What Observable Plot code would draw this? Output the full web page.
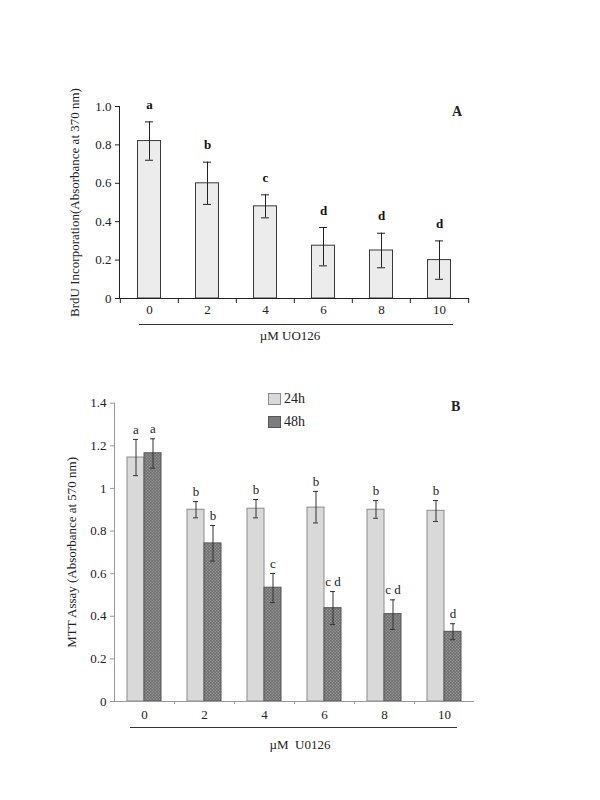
<!DOCTYPE html>
<html>
<head>
<meta charset="utf-8">
<script src="https://cdn.jsdelivr.net/npm/d3@7"></script>
<script src="https://cdn.jsdelivr.net/npm/@observablehq/plot@0.6"></script>
<style>
  html, body { margin: 0; padding: 0; background: #fff; }
  #page { position: relative; width: 600px; height: 800px; font-family: "Liberation Serif", "Times New Roman", serif; color: #222; }
  #page svg { position: absolute; left: 0; }
  #page svg text { font-family: "Liberation Serif", "Times New Roman", serif; }
  .ov { position: absolute; font-family: "Liberation Serif", serif; color: #222; white-space: nowrap; }
  .line { position: absolute; height: 0; border-top: 1px solid #333; }
  .box { position: absolute; width: 11px; height: 10px; border: 1px solid #777; }
</style>
</head>
<body>
<div id="page"></div>
<script>
// ---------- Panel A data: BrdU incorporation ----------
const concA = ["0", "2", "4", "6", "8", "10"];
const brduMean = [0.82, 0.60, 0.48, 0.275, 0.25, 0.20];
const brduLow = [0.72, 0.49, 0.42, 0.17, 0.16, 0.10];
const brduHigh = [0.92, 0.71, 0.54, 0.37, 0.34, 0.30];
const brduLetters = ["a", "b", "c", "d", "d", "d"];
const ticksA = [0, 0.2, 0.4, 0.6, 0.8, 1.0];

// ---------- Panel B data: MTT assay ----------
const concB = ["0", "2", "4", "6", "8", "10"];
const seriesB = ["24h", "48h"];
const mtt24 = [1.145, 0.90, 0.905, 0.91, 0.90, 0.895];
const mtt24Low = [1.06, 0.862, 0.862, 0.838, 0.86, 0.845];
const mtt24High = [1.23, 0.938, 0.948, 0.986, 0.943, 0.943];
const mtt48 = [1.165, 0.742, 0.534, 0.438, 0.41, 0.327];
const mtt48Low = [1.095, 0.659, 0.464, 0.361, 0.338, 0.29];
const mtt48High = [1.233, 0.826, 0.601, 0.516, 0.477, 0.365];
const letters24 = ["a", "b", "b", "b", "b", "b"];
const letters48 = ["a", "b", "c", "c d", "c d", "d"];
const ticksB = [0, 0.2, 0.4, 0.6, 0.8, 1.0, 1.2, 1.4];

const dataA = concA.map((c, i) => ({conc: c, mean: brduMean[i], low: brduLow[i], high: brduHigh[i], letter: brduLetters[i]}));
const data24 = concB.map((c, i) => ({conc: c, series: seriesB[0], mean: mtt24[i], low: mtt24Low[i], high: mtt24High[i], letter: letters24[i]}));
const data48 = concB.map((c, i) => ({conc: c, series: seriesB[1], mean: mtt48[i], low: mtt48Low[i], high: mtt48High[i], letter: letters48[i]}));

const font = '"Liberation Serif", "Times New Roman", serif';
const page = document.getElementById("page");

// ---------- Panel A ----------
const wA = 600, mlA = 119, mrA = 131;
const bwA = (wA - mlA - mrA) / concA.length;
const plotA = Plot.plot({
  width: wA, height: 370,
  marginTop: 106, marginBottom: 72, marginLeft: mlA, marginRight: mrA,
  style: {fontFamily: font, fontSize: "13px", background: "transparent", color: "#222"},
  x: {domain: concA, padding: 0, axis: null},
  y: {domain: [0, 1], axis: null},
  marks: [
    Plot.barY(dataA, {x: "conc", y: "mean", fill: "#ececec", stroke: "#3a3a3a", strokeWidth: 1, insetLeft: 17.5, insetRight: 17.5}),
    Plot.ruleX(dataA, {x: "conc", y1: "low", y2: "high", stroke: "#222", strokeWidth: 1}),
    Plot.tickY(dataA, {x: "conc", y: "low", stroke: "#222", insetLeft: 25, insetRight: 25}),
    Plot.tickY(dataA, {x: "conc", y: "high", stroke: "#222", insetLeft: 25, insetRight: 25}),
    Plot.text(dataA, {x: "conc", y: "high", text: "letter", dy: -17, fontWeight: "bold", fontSize: 13, fill: "#111"}),
    Plot.frame({anchor: "left", stroke: "#222"}),
    Plot.ruleY([0], {stroke: "#222"}),
    Plot.ruleX(concA, {x: d => d, y1: 0, y2: 0, dx: -bwA / 2, insetBottom: -5, stroke: "#222"}),
    Plot.ruleX(concA.slice(-1), {x: d => d, y1: 0, y2: 0, dx: bwA / 2, insetBottom: -5, stroke: "#222"}),
    Plot.axisY({ticks: ticksA, tickFormat: d => d === 0 ? "0" : d.toFixed(1), tickSize: 4, tickPadding: 4, stroke: "#222",
      label: "BrdU Incorporation(Absorbance at 370 nm)", labelAnchor: "center", labelArrow: "none", labelOffset: 50, fontSize: 13}),
    Plot.axisX({tickSize: 0, tickPadding: 6, label: null, fontSize: 13})
  ]
});
plotA.style.top = "0px";
page.appendChild(plotA);

// ---------- Panel B ----------
const wB = 600, mlB = 114, mrB = 126;
const topB = 370;
const plotB = Plot.plot({
  width: wB, height: 421,
  marginTop: 32.7, marginBottom: 90, marginLeft: mlB, marginRight: mrB,
  style: {fontFamily: font, fontSize: "13px", background: "transparent", color: "#222"},
  x: {domain: concB, padding: 0, axis: null},
  y: {domain: [0, 1.4], axis: null},
  marks: [
    Plot.barY(data24, {x: "conc", y: "mean", fill: "#d9d9d9", stroke: "#8a8a8a", insetLeft: 13, insetRight: 30}),
    Plot.barY(data48, {x: "conc", y: "mean", fill: "url(#hatch48)", stroke: "#555", insetLeft: 30, insetRight: 13}),
    Plot.ruleX(data24, {x: "conc", y1: "low", y2: "high", dx: -8.5, stroke: "#333"}),
    Plot.ruleX(data48, {x: "conc", y1: "low", y2: "high", dx: 8.5, stroke: "#333"}),
    Plot.tickY(data24, {x: "conc", y: "low", stroke: "#333", insetLeft: 19, insetRight: 36}),
    Plot.tickY(data24, {x: "conc", y: "high", stroke: "#333", insetLeft: 19, insetRight: 36}),
    Plot.tickY(data48, {x: "conc", y: "low", stroke: "#333", insetLeft: 36, insetRight: 19}),
    Plot.tickY(data48, {x: "conc", y: "high", stroke: "#333", insetLeft: 36, insetRight: 19}),
    Plot.text(data24, {x: "conc", y: "high", text: "letter", dx: -8.5, dy: -10, fontSize: 13, fill: "#222"}),
    Plot.text(data48, {x: "conc", y: "high", text: "letter", dx: 8.5, dy: -10, fontSize: 13, fill: "#222"}),
    Plot.frame({anchor: "left", stroke: "#999"}),
    Plot.ruleY([0], {stroke: "#999"}),
    Plot.ruleX(concB.slice(1), {x: d => d, y1: 0, y2: 0, dx: -30, insetBottom: -3, stroke: "#999"}),
    Plot.axisY({ticks: ticksB, tickFormat: d => String(+d.toFixed(1)), tickSize: 4, tickPadding: 4, stroke: "#999",
      label: "MTT Assay (Absorbance at 570 nm)", labelAnchor: "center", labelArrow: "none", labelOffset: 48, fontSize: 13}),
    Plot.axisX({tickSize: 0, tickPadding: 8, label: null, fontSize: 13})
  ]
});
// hatch pattern for the 48h bars
const ns = "http://www.w3.org/2000/svg";
const defs = document.createElementNS(ns, "defs");
defs.innerHTML = '<pattern id="hatch48" patternUnits="userSpaceOnUse" width="3" height="3">' +
  '<rect width="3" height="3" fill="#7c7c7c"/>' +
  '<path d="M0,3 L3,0" stroke="#9a9a9a" stroke-width="0.8"/>' +
  '<path d="M0,0 L3,3" stroke="#666" stroke-width="0.6"/></pattern>';
plotB.insertBefore(defs, plotB.firstChild);
plotB.style.top = topB + "px";
page.appendChild(plotB);

// ---------- overlays: panel letters, underlines, x titles, legend ----------
function ov(html, left, top, css) {
  const d = document.createElement("div");
  d.className = "ov";
  d.innerHTML = html;
  d.style.left = left + "px";
  d.style.top = top + "px";
  Object.assign(d.style, css || {});
  page.appendChild(d);
  return d;
}
function line(left, top, width) {
  const d = document.createElement("div");
  d.className = "line";
  d.style.left = left + "px"; d.style.top = top + "px"; d.style.width = width + "px";
  page.appendChild(d);
}
ov("A", 452, 104, {fontWeight: "bold", fontSize: "14px"});
ov("B", 451, 399, {fontWeight: "bold", fontSize: "14px"});
line(139, 324, 314);
line(130, 727, 327);
ov("\u00b5M UO126", 290, 336, {fontSize: "13px", transform: "translate(-50%,-50%)"});
ov("\u00b5M&nbsp;&nbsp;U0126", 300, 745, {fontSize: "13px", transform: "translate(-50%,-50%)"});
// legend
const b1 = document.createElement("div"); b1.className = "box";
Object.assign(b1.style, {left: "268px", top: "393px", background: "#d9d9d9", borderColor: "#8a8a8a"});
page.appendChild(b1);
const b2 = document.createElement("div"); b2.className = "box";
Object.assign(b2.style, {left: "268px", top: "416px", background: "#7c7c7c", borderColor: "#555"});
page.appendChild(b2);
ov(seriesB[0], 284, 391, {fontSize: "14px"});
ov(seriesB[1], 284, 414, {fontSize: "14px"});
</script>
</body>
</html>
